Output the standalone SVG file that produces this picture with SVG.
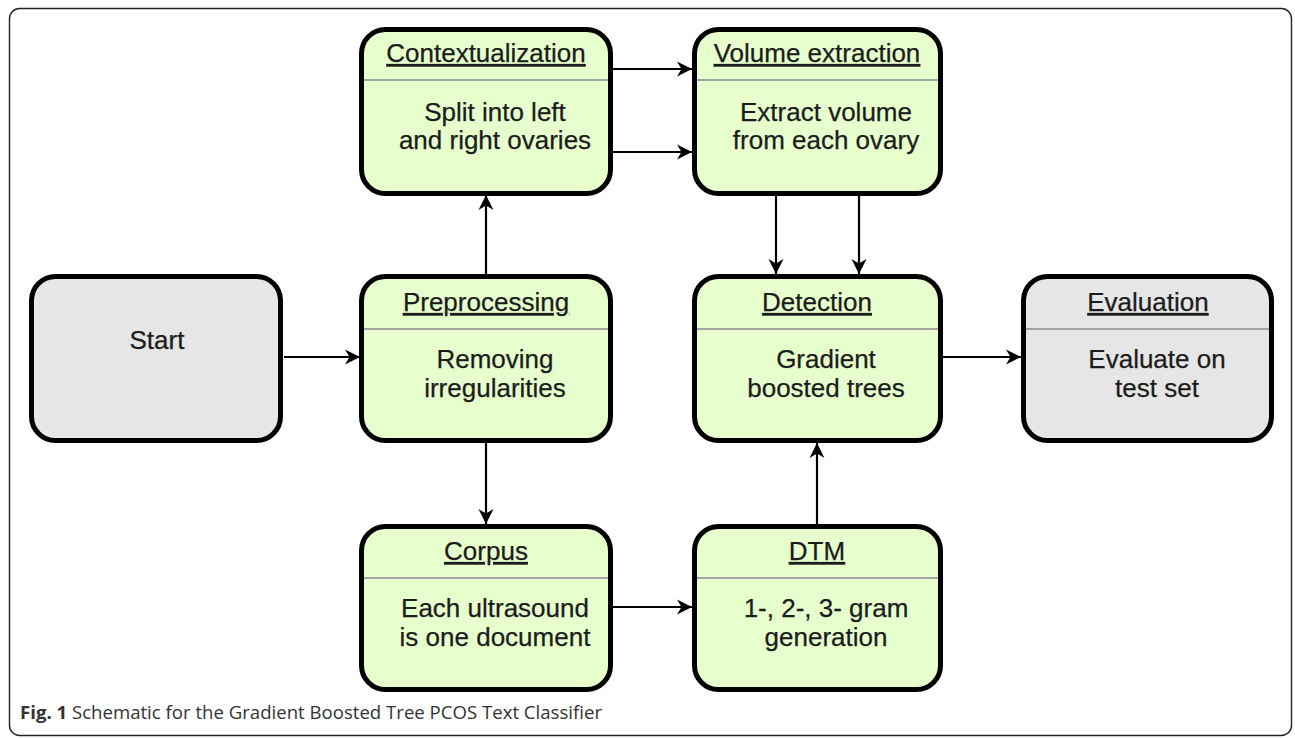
<svg xmlns="http://www.w3.org/2000/svg" width="1295" height="738" viewBox="0 0 1295 738">
  <style>
    .frame { fill: #ffffff; stroke: #222222; stroke-width: 1.4; }
    .box { stroke: #000000; stroke-width: 5; }
    .green { fill: #e6ffcc; }
    .grey { fill: #e6e6e6; }
    .divider { stroke: #a3a3a3; stroke-width: 2; }
    .title { font-family: "Liberation Sans", Arial, sans-serif; font-size: 26px; fill: #1c1c1c; stroke: #1c1c1c; stroke-width: 0.25; text-anchor: middle; text-decoration: underline; }
    .body { font-family: "Liberation Sans", Arial, sans-serif; font-size: 26px; fill: #1c1c1c; stroke: #1c1c1c; stroke-width: 0.25; text-anchor: middle; }
    .edge { fill: none; stroke: #000000; stroke-width: 2.2; marker-end: url(#arrow); }
    .caption { font-family: "Open Sans", "Liberation Sans", sans-serif; font-size: 18.6px; fill: #333333; }
  </style>
  <defs>
    <marker id="arrow" markerUnits="userSpaceOnUse" markerWidth="16" markerHeight="16" viewBox="0 0 16 16" refX="15" refY="8" orient="auto">
      <path d="M0,0.5 L15,8 L0,15.5 L4.5,8 z" fill="#000000"/>
    </marker>
  </defs>

  <rect class="frame" x="9.5" y="8.5" width="1282" height="727" rx="10"/>

  <!-- connectors -->
  <g id="connectors">
    <line class="edge" x1="284" y1="357" x2="360" y2="357"/>
    <line class="edge" x1="486" y1="274" x2="486" y2="195"/>
    <line class="edge" x1="612" y1="69" x2="692" y2="69"/>
    <line class="edge" x1="612" y1="152" x2="692" y2="152"/>
    <line class="edge" x1="776" y1="195" x2="776" y2="274"/>
    <line class="edge" x1="859" y1="195" x2="859" y2="274"/>
    <line class="edge" x1="943" y1="357" x2="1021" y2="357"/>
    <line class="edge" x1="486" y1="443" x2="486" y2="524"/>
    <line class="edge" x1="612" y1="607" x2="692" y2="607"/>
    <line class="edge" x1="817" y1="524" x2="817" y2="443"/>
  </g>

  <!-- nodes -->
  <g id="start">
    <rect class="box grey" x="31.5" y="276.5" width="249" height="164" rx="24"/>
    <text class="body" x="157" y="349">Start</text>
  </g>

  <g id="contextualization">
    <rect class="box green" x="361.5" y="29.5" width="249" height="164" rx="24"/>
    <line class="divider" x1="364" y1="80" x2="608" y2="80"/>
    <text class="title" x="486" y="62">Contextualization</text>
    <text class="body" x="495" y="121">Split into left</text>
    <text class="body" x="495" y="149">and right ovaries</text>
  </g>

  <g id="volume-extraction">
    <rect class="box green" x="694.5" y="29.5" width="246" height="164" rx="24"/>
    <line class="divider" x1="697" y1="80" x2="938" y2="80"/>
    <text class="title" x="817" y="62">Volume extraction</text>
    <text class="body" x="826" y="121">Extract volume</text>
    <text class="body" x="826" y="149">from each ovary</text>
  </g>

  <g id="preprocessing">
    <rect class="box green" x="361.5" y="276.5" width="249" height="164" rx="24"/>
    <line class="divider" x1="364" y1="329" x2="608" y2="329"/>
    <text class="title" x="486" y="311">Preprocessing</text>
    <text class="body" x="495" y="368">Removing</text>
    <text class="body" x="495" y="397">irregularities</text>
  </g>

  <g id="detection">
    <rect class="box green" x="694.5" y="276.5" width="246" height="164" rx="24"/>
    <line class="divider" x1="697" y1="329" x2="938" y2="329"/>
    <text class="title" x="817" y="311">Detection</text>
    <text class="body" x="826" y="368">Gradient</text>
    <text class="body" x="826" y="397">boosted trees</text>
  </g>

  <g id="evaluation">
    <rect class="box grey" x="1023.5" y="276.5" width="248" height="164" rx="24"/>
    <line class="divider" x1="1026" y1="329" x2="1269" y2="329"/>
    <text class="title" x="1148" y="311">Evaluation</text>
    <text class="body" x="1157" y="368">Evaluate on</text>
    <text class="body" x="1157" y="397">test set</text>
  </g>

  <g id="corpus">
    <rect class="box green" x="361.5" y="526.5" width="249" height="163" rx="24"/>
    <line class="divider" x1="364" y1="578" x2="608" y2="578"/>
    <text class="title" x="486" y="560">Corpus</text>
    <text class="body" x="495" y="617">Each ultrasound</text>
    <text class="body" x="495" y="646">is one document</text>
  </g>

  <g id="dtm">
    <rect class="box green" x="694.5" y="526.5" width="246" height="163" rx="24"/>
    <line class="divider" x1="697" y1="578" x2="938" y2="578"/>
    <text class="title" x="817" y="560">DTM</text>
    <text class="body" x="826" y="617">1-, 2-, 3- gram</text>
    <text class="body" x="826" y="646">generation</text>
  </g>

  <text class="caption" x="20" y="719"><tspan font-weight="bold">Fig. 1</tspan> Schematic for the Gradient Boosted Tree PCOS Text Classifier</text>
</svg>
